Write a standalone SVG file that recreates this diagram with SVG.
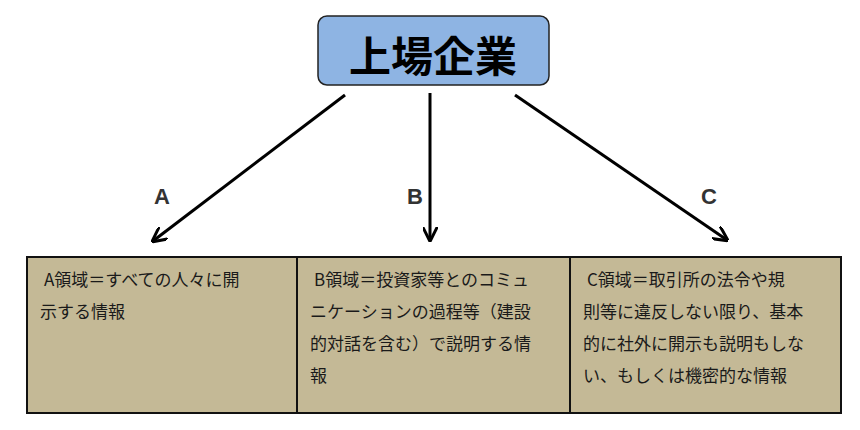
<svg xmlns="http://www.w3.org/2000/svg" width="860" height="430" viewBox="0 0 860 430">
<defs>
<style>
.t{font-family:"Noto Sans CJK JP","Noto Sans",sans-serif;font-size:17px;fill:#1a1a1a}
.l{font-family:"Liberation Sans",Arial,sans-serif;font-size:22px;font-weight:bold;fill:#333}
.box{fill:#C4B996;stroke:#111;stroke-width:2}
.c{stroke:#000;stroke-width:3;fill:none;marker-end:url(#ah)}
</style>
<marker id="ah" viewBox="0 0 10 10" refX="9" refY="5" markerWidth="5" markerHeight="5" orient="auto" markerUnits="strokeWidth">
<path d="M0,0 L10,5 L0,10" fill="none" stroke="#000" stroke-width="2"/>
</marker>
</defs>
<rect width="860" height="430" fill="#fff"/>
<g id="top">
<rect x="318" y="16" width="231" height="69" rx="9" fill="#8EB4E3" stroke="#222" stroke-width="1.5"/>
<text x="433" y="72" text-anchor="middle" font-family="Noto Sans CJK JP,sans-serif" font-size="42" font-weight="bold" fill="#000">上場企業</text>
</g>
<g id="connectors">
<line class="c" x1="345" y1="95" x2="153" y2="241"/>
<line class="c" x1="430" y1="93" x2="430" y2="240"/>
<line class="c" x1="515" y1="95" x2="727" y2="240"/>
<text class="l" x="162" y="204" text-anchor="middle">A</text>
<text class="l" x="415" y="204" text-anchor="middle">B</text>
<text class="l" x="709" y="204" text-anchor="middle">C</text>
</g>
<g id="boxA">
<rect class="box" x="27" y="257" width="270" height="156"/>
<text class="t" x="44" y="286">A領域＝すべての人々に開</text>
<text class="t" x="40" y="318">示する情報</text>
</g>
<g id="boxB">
<rect class="box" x="297" y="257" width="273" height="156"/>
<text class="t" x="314" y="286">B領域＝投資家等とのコミュ</text>
<text class="t" x="310" y="318">ニケーションの過程等（建設</text>
<text class="t" x="310" y="350">的対話を含む）で説明する情</text>
<text class="t" x="310" y="382">報</text>
</g>
<g id="boxC">
<rect class="box" x="570" y="257" width="271" height="156"/>
<text class="t" x="587" y="286">C領域＝取引所の法令や規</text>
<text class="t" x="583" y="318">則等に違反しない限り、基本</text>
<text class="t" x="583" y="350">的に社外に開示も説明もしな</text>
<text class="t" x="583" y="382">い、もしくは機密的な情報</text>
</g>
</svg>
